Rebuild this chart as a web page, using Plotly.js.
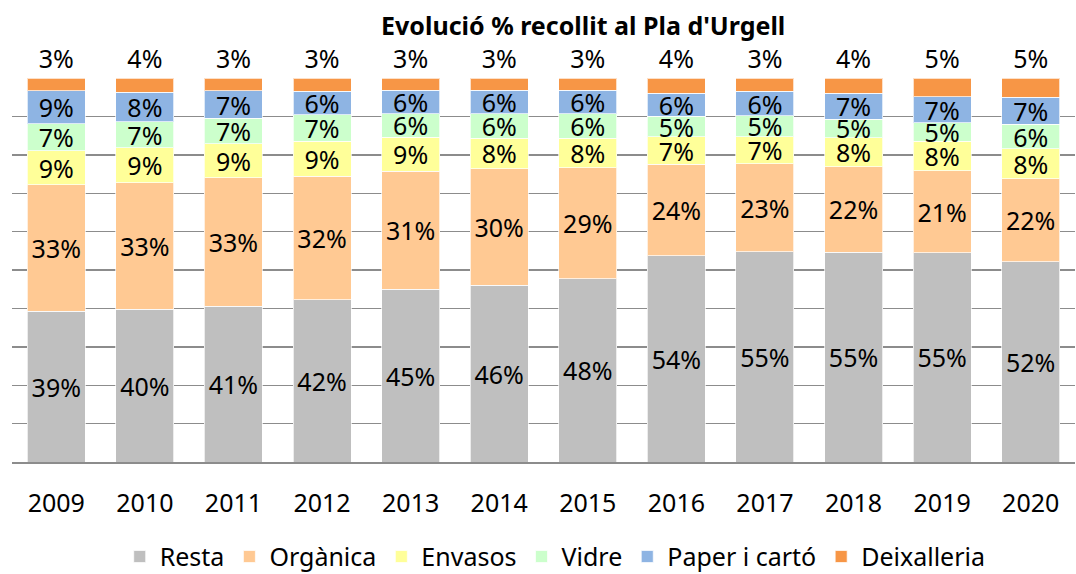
<!DOCTYPE html>
<html>
<head>
<meta charset="utf-8">
<script src="https://cdn.plot.ly/plotly-3.0.1.min.js"></script>
<style>html,body{margin:0;padding:0;background:#fff;}#chart{width:1076px;height:574px;}</style>
</head>
<body>
<div id="chart"></div>
<script>
const years = ['2009','2010','2011','2012','2013','2014','2015','2016','2017','2018','2019','2020'];
const resta       = [39.3, 39.8, 40.6, 42.3, 45.0, 46.1, 47.7, 53.7, 54.8, 54.7, 54.5, 52.2];
const organica    = [32.9, 33.0, 33.4, 32.2, 30.8, 30.3, 29.0, 23.9, 22.9, 22.2, 21.4, 21.6];
const envasos     = [8.9, 9.1, 8.9, 9.1, 8.8, 8.0, 7.7, 7.1, 7.1, 7.6, 7.7, 7.8];
const vidre       = [7.0, 6.8, 6.6, 6.9, 6.2, 6.3, 6.3, 5.4, 5.4, 4.8, 4.8, 6.4];
const paper       = [8.6, 7.6, 7.2, 6.1, 6.0, 6.1, 6.1, 6.0, 6.4, 6.8, 6.8, 7.0];
const deixalleria = [3.3, 3.7, 3.3, 3.4, 3.2, 3.2, 3.2, 3.9, 3.4, 3.9, 4.8, 5.0];

const seriesNames = ['Resta','Orgànica','Envasos','Vidre','Paper i cartó','Deixalleria'];
const seriesValues = [resta, organica, envasos, vidre, paper, deixalleria];
const seriesColors = ['#BFBFBF','#FFC993','#FFFF99','#CCFFCC','#8EB4E3','#F79646'];

const FONT = 'Noto Sans, Open Sans, DejaVu Sans, sans-serif';
const FS = 25;

const traces = seriesNames.map((name, i) => ({
  type: 'bar',
  name: name,
  x: years,
  y: seriesValues[i],
  text: seriesValues[i].map(v => Math.round(v) + '%'),
  textposition: i === seriesNames.length - 1 ? 'outside' : 'inside',
  insidetextanchor: 'middle',
  constraintext: 'none',
  cliponaxis: false,
  textfont: {family: FONT, size: FS, color: '#000'},
  marker: {color: seriesColors[i], line: {color: 'rgba(255,255,255,0.7)', width: 1}},
  hoverinfo: 'x+y+name'
}));

const layout = {
  width: 1076, height: 574,
  barmode: 'stack',
  bargap: 0.345,
  paper_bgcolor: '#fff', plot_bgcolor: '#fff',
  margin: {l: 12, r: 1, t: 78, b: 112},
  font: {family: FONT, size: FS, color: '#000'},
  title: {
    text: "Evolució % recollit al Pla d'Urgell",
    font: {family: FONT, size: 25, color: '#000', weight: 'bold'},
    x: 0.542, xref: 'container', xanchor: 'center',
    y: 0.955, yref: 'container', yanchor: 'middle'
  },
  xaxis: {
    type: 'category',
    showgrid: false,
    showline: true, linecolor: '#8c8c8c', linewidth: 1.5,
    ticks: '', ticklabelstandoff: 18,
    tickfont: {family: FONT, size: FS, color: '#000'}
  },
  yaxis: {
    range: [0, 100.05], tick0: 0, dtick: 10,
    showticklabels: false,
    showgrid: true, gridcolor: '#8c8c8c', gridwidth: 1.3,
    zeroline: false, showline: false, ticks: ''
  },
  showlegend: true,
  legend: {
    orientation: 'h',
    x: 0.516, xref: 'container', xanchor: 'center',
    y: 0.03, yref: 'container', yanchor: 'middle',
    font: {family: FONT, size: FS, color: '#000'},
    traceorder: 'normal'
  }
};

Plotly.newPlot('chart', traces, layout, {displayModeBar: false, staticPlot: true});
</script>
</body>
</html>
